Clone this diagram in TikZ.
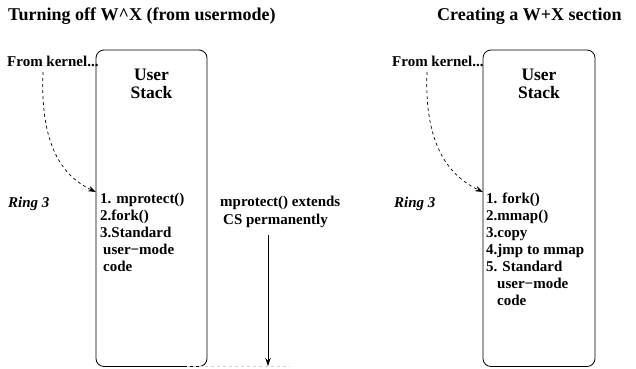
\documentclass[tikz,border=0pt]{standalone}
\usepackage{fontspec}
\setmainfont{Liberation Serif}
\usetikzlibrary{arrows.meta}
\tikzset{
  stackbox/.style={draw,line width=0.8pt,rounded corners=8pt,minimum width=111pt,minimum height=316.5pt,inner sep=0pt},
  heading/.style={font=\bfseries\fontsize{18}{20}\selectfont,inner sep=0pt,anchor=base west},
  stacklabel/.style={font=\bfseries\fontsize{17.5}{17.5}\selectfont,inner sep=0pt,align=center,anchor=north},
  txt/.style={font=\bfseries\fontsize{15}{17}\selectfont,inner sep=0pt,align=left},
  ring/.style={font=\bfseries\itshape\fontsize{15}{17}\selectfont,inner sep=0pt,anchor=base west},
  kernelarrow/.style={dashed,line width=0.7pt,-{Stealth[length=8pt,width=5.5pt]}},
}
\begin{document}
\begin{tikzpicture}[x=1pt,y=-1pt]
\useasboundingbox (0,0) rectangle (636,368);
% titles
\node[heading] (titleL) at (8,20.5) {Turning off W\textasciicircum X (from usermode)};
\node[heading] (titleR) at (437,20.5) {Creating a W+X section};
% left side
\node[stackbox] (boxL) at (151.5,208.25) {};
\node[stacklabel] (stackL) at (151.5,69) {User\\Stack};
\node[txt,anchor=base west] (kernelL) at (7,66) {From kernel...};
\node[ring] (ringL) at (8,207) {Ring 3};
\node[txt,anchor=north west] (listL) at (100,193) {1. mprotect()\\2.fork()\\3.Standard\\\hspace*{3pt}user−mode\\\hspace*{3pt}code};
\coordinate (fromL) at (43,72);
\coordinate (tipL) at (96,192);
\draw[kernelarrow] (fromL) .. controls (40,145) and (62,176) .. (tipL);
% note in the middle
\node[txt,font=\bfseries\fontsize{15}{18}\selectfont,anchor=north west] (note) at (220,196) {mprotect() extends\\\hspace*{3pt}CS permanently};
\coordinate (noteTop) at (268,235);
\coordinate (noteEnd) at (268,366);
\draw[line width=0.7pt,-{Stealth[length=8pt,width=5.5pt]}] (noteTop) -- (noteEnd);
\draw[gray!35,dashed,line width=0.8pt] (187,366.5) -- (290,366.5);
% right side
\node[stackbox,minimum width=112pt] (boxR) at (539,208.25) {};
\node[stacklabel] (stackR) at (539,69) {User\\Stack};
\node[txt,anchor=base west] (kernelR) at (392,66) {From kernel...};
\node[ring] (ringR) at (394,207) {Ring 3};
\node[txt,anchor=north west] (listR) at (486,193) {1. fork()\\2.mmap()\\3.copy\\4.jmp to mmap\\5. Standard\\\hspace*{11pt}user−mode\\\hspace*{11pt}code};
\coordinate (fromR) at (427,72);
\coordinate (tipR) at (483,192);
\draw[kernelarrow] (fromR) .. controls (424,145) and (449,176) .. (tipR);
\end{tikzpicture}
\end{document}
